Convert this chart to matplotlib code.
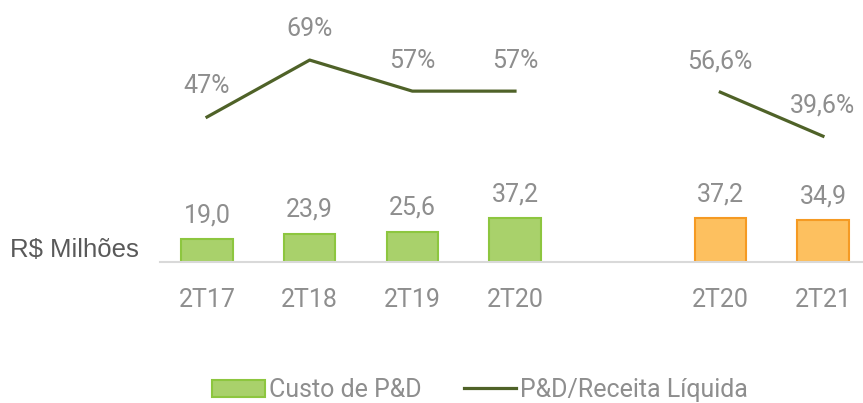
import matplotlib
matplotlib.use("Agg")
import matplotlib.pyplot as plt
from matplotlib.patches import Patch
from matplotlib.lines import Line2D

# data
categories = ["2T17", "2T18", "2T19", "2T20", "2T20", "2T21"]
positions = [0, 1, 2, 3, 5, 6]
custo = [19.0, 23.9, 25.6, 37.2, 37.2, 34.9]
custo_labels = ["19,0", "23,9", "25,6", "37,2", "37,2", "34,9"]
ratio = [47, 69, 57, 57, 56.6, 39.6]
ratio_labels = ["47%", "69%", "57%", "57%", "56,6%", "39,6%"]

green, green_edge = "#a9d16b", "#8dc63f"
orange, orange_edge = "#fdc05f", "#f59a23"
line_color = "#4f6228"
txt = "#8e8e8e"
font = ["Roboto", "DejaVu Sans"]
fs = 18

fig = plt.figure(figsize=(8.63, 4.03), dpi=100)
ax = fig.add_axes([160 / 863, 141 / 403, 703 / 863, 262 / 403])
ax.set_xlim(-0.458, 6.39)
ax.set_ylim(0, 220)

fills = [green] * 4 + [orange] * 2
edges = [green_edge] * 4 + [orange_edge] * 2
ax.bar(positions, custo, width=0.5, color=fills, edgecolor=edges, linewidth=1.5, zorder=2)
for x, v, s in zip(positions, custo, custo_labels):
    ax.annotate(s, (x, v), xytext=(0, 12), textcoords="offset points",
                ha="center", va="baseline", fontsize=fs, color=txt, family=font)

for side in ["top", "left", "right"]:
    ax.spines[side].set_visible(False)
ax.spines["bottom"].set_color("#d9d9d9")
ax.spines["bottom"].set_linewidth(1.5)
ax.set_yticks([])
ax.set_xticks(positions)
ax.set_xticklabels(categories, fontsize=fs, color=txt, family=font)
ax.tick_params(axis="x", length=0, pad=18.5)

ax2 = ax.twinx()
ax2.set_ylim(-9.0, 92.2)
ax2.axis("off")
ax2.plot(positions[:4], ratio[:4], color=line_color, linewidth=2.3)
ax2.plot(positions[4:], ratio[4:], color=line_color, linewidth=2.3)
for x, v, s in zip(positions, ratio, ratio_labels):
    ax2.annotate(s, (x, v), xytext=(0, 17), textcoords="offset points",
                 ha="center", va="baseline", fontsize=fs, color=txt, family=font)

fig.text(10 / 863, 1 - 250 / 403, "R$ Milhões", ha="left", va="center",
         fontsize=18.5, color="#595959", family=["Liberation Sans", "DejaVu Sans"])

handles = [Patch(facecolor=green, edgecolor=green_edge, linewidth=1.5),
           Line2D([0], [0], color=line_color, linewidth=2.3)]
fig.legend(handles, ["Custo de P&D", "P&D/Receita Líquida"], ncol=2,
           loc="center", bbox_to_anchor=(480 / 863, 1 - 390 / 403), frameon=False,
           prop={"family": font, "size": fs}, labelcolor=txt,
           handlelength=2.1, handletextpad=0.15, columnspacing=1.7)

fig.savefig("out.png", dpi=100)
